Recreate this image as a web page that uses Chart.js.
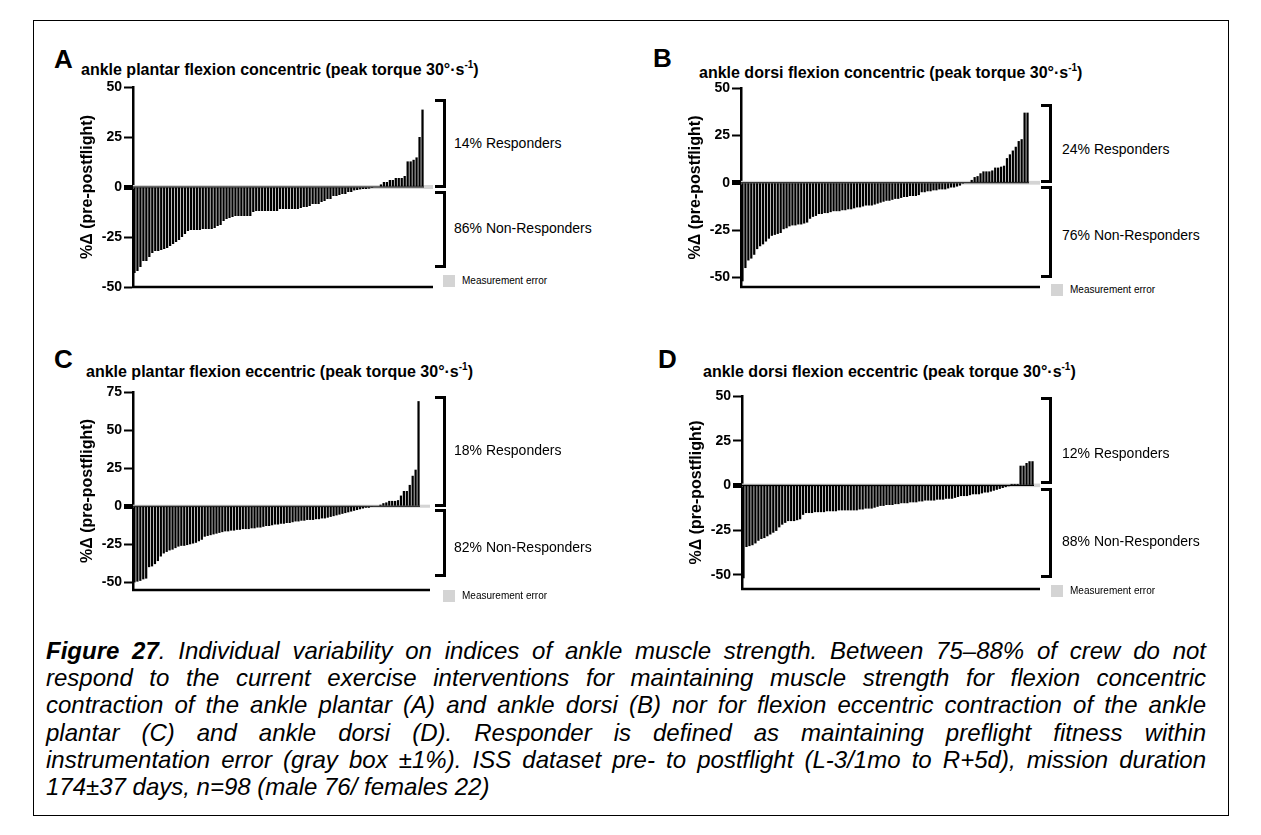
<!DOCTYPE html>
<html>
<head>
<meta charset="utf-8">
<script src="https://cdn.jsdelivr.net/npm/chart.js@4.4.1/dist/chart.umd.min.js"></script>
<style>
  body { margin: 0; background: #fff; font-family: "Liberation Sans", Arial, sans-serif; color: #000; }
  #page { position: relative; width: 1261px; height: 835px; overflow: hidden; }
  #frame { position: absolute; left: 33px; top: 20px; width: 1194px; height: 794px; border: 1px solid #000; }
  canvas { position: absolute; }
  .letter { position: absolute; font-weight: bold; font-size: 26px; line-height: 26px; }
  .title { position: absolute; font-weight: bold; font-size: 16px; line-height: 18px; white-space: nowrap; }
  .title sup { font-size: 10px; line-height: 0; vertical-align: 7px; }
  .bracket { position: absolute; width: 11px; box-sizing: border-box; border: 3px solid #000; border-left: none; }
  .note { position: absolute; font-size: 14px; line-height: 16px; white-space: nowrap; transform: translateY(-50%); }
  .err { position: absolute; font-size: 10px; line-height: 12px; white-space: nowrap; transform: translateY(-50%); }
  .swatch { position: absolute; width: 12px; height: 12px; background: #d4d4d4; }
  #caption { position: absolute; left: 46px; top: 637px; width: 1160px; font-style: italic; font-size: 24px; line-height: 27.2px; }
  #caption div { text-align: justify; text-align-last: justify; }
  #caption div.last { text-align-last: left; }
</style>
</head>
<body>
<div id="page">
  <div id="frame"></div>

  <div class="letter" style="left:54px; top:46px;">A</div>
  <div class="title" style="left:81px; top:61px;">ankle plantar flexion concentric (peak torque 30°·s<sup>-1</sup>)</div>
  <div class="letter" style="left:653px; top:45px;">B</div>
  <div class="title" style="left:699px; top:64px;">ankle dorsi flexion concentric (peak torque 30°·s<sup>-1</sup>)</div>
  <div class="letter" style="left:54px; top:346px;">C</div>
  <div class="title" style="left:86px; top:363px;">ankle plantar flexion eccentric (peak torque 30°·s<sup>-1</sup>)</div>
  <div class="letter" style="left:658px; top:346px;">D</div>
  <div class="title" style="left:703px; top:363px;">ankle dorsi flexion eccentric (peak torque 30°·s<sup>-1</sup>)</div>

  <canvas id="chartA"></canvas>
  <canvas id="chartB"></canvas>
  <canvas id="chartC"></canvas>
  <canvas id="chartD"></canvas>

  <div class="bracket" style="left:435px; top:99px; height:89px;"></div>
  <div class="bracket" style="left:435px; top:191px; height:77px;"></div>
  <div class="note" style="left:454px; top:143px;">14% Responders</div>
  <div class="note" style="left:454px; top:228px;">86% Non-Responders</div>
  <div class="swatch" style="left:443px; top:275px;"></div>
  <div class="err" style="left:462px; top:281px;">Measurement error</div>

  <div class="bracket" style="left:1041px; top:104px; height:79px;"></div>
  <div class="bracket" style="left:1041px; top:186px; height:92px;"></div>
  <div class="note" style="left:1062px; top:149px;">24% Responders</div>
  <div class="note" style="left:1062px; top:235px;">76% Non-Responders</div>
  <div class="swatch" style="left:1051px; top:284px;"></div>
  <div class="err" style="left:1070px; top:290px;">Measurement error</div>

  <div class="bracket" style="left:435px; top:396px; height:111px;"></div>
  <div class="bracket" style="left:435px; top:509px; height:68px;"></div>
  <div class="note" style="left:454px; top:450px;">18% Responders</div>
  <div class="note" style="left:454px; top:547px;">82% Non-Responders</div>
  <div class="swatch" style="left:443px; top:590px;"></div>
  <div class="err" style="left:462px; top:596px;">Measurement error</div>

  <div class="bracket" style="left:1041px; top:397px; height:87px;"></div>
  <div class="bracket" style="left:1041px; top:488px; height:90px;"></div>
  <div class="note" style="left:1062px; top:453px;">12% Responders</div>
  <div class="note" style="left:1062px; top:541px;">88% Non-Responders</div>
  <div class="swatch" style="left:1051px; top:585px;"></div>
  <div class="err" style="left:1070px; top:591px;">Measurement error</div>

  <div id="caption">
    <div><b>Figure 27</b>. Individual variability on indices of ankle muscle strength. Between 75–88% of crew do not</div>
    <div>respond to the current exercise interventions for maintaining muscle strength for flexion concentric</div>
    <div>contraction of the ankle plantar (A) and ankle dorsi (B) nor for flexion eccentric contraction of the ankle</div>
    <div>plantar (C) and ankle dorsi (D). Responder is defined as maintaining preflight fitness within</div>
    <div>instrumentation error (gray box ±1%). ISS dataset pre- to postflight (L-3/1mo to R+5d), mission duration</div>
    <div class="last">174±37 days, n=98 (male 76/ females 22)</div>
  </div>
</div>

<script>
// % change pre- to postflight per crew member, sorted (n = 98)
const plantarConcentric = [
    -43, -42, -40, -37, -37, -35, -33, -32, -32, -31.5,
    -31, -30.5, -29.5, -28.5, -27.5, -26.5, -25, -23.5, -22, -21.5,
    -21.5, -21.5, -21.5, -21, -21, -21, -21, -20.5, -19.5, -19,
    -17, -16, -15.5, -15, -14.5, -14.5, -14.5, -14.5, -14.5, -14.5,
    -12.5, -12, -12, -12, -12, -12, -12, -12, -12, -11,
    -11, -11, -11, -11, -11, -11, -10.5, -10, -10, -9.5,
    -8.5, -8.5, -8.5, -7.5, -7, -6, -6, -4.5, -4.5, -4,
    -3.5, -3.5, -2.5, -2.5, -1.7, -1.5, -1.2, -1, -1, -0.8,
    -0.5, 0, 0,
    1.3, 2.5, 2.5, 3.5, 3.5, 4.5, 4.5, 4.5, 5.5, 12.8, 12.8, 13.6, 14.8, 25, 38.7
];
const dorsiConcentric = [
    -52, -45, -41, -40, -38, -35, -33.5, -32.5, -31, -29.5,
    -28, -27.5, -27, -26.5, -24.5, -24, -23, -22.5, -22.5, -22,
    -22, -21.5, -21, -19, -18, -17.5, -16.5, -16.5, -16, -16,
    -15.5, -15, -15, -15, -14.5, -14.5, -14, -14, -13.5, -13,
    -13, -12.5, -12, -12, -12, -11.5, -11, -10.5, -10, -9.5,
    -9.5, -9, -8.5, -8.5, -8, -7.5, -7.5, -7, -7, -7,
    -6.5, -5, -5, -4.5, -4.5, -4, -4, -3.5, -3.5, -3.5,
    -3, -2.5, -2.5, -2, -1.5, -0.5,
    0, 0,
    1.5, 3, 3.5, 5, 6, 6, 6, 6.5, 8, 8, 8.5, 9, 13, 15, 17, 19, 22, 23, 37, 37
];
const plantarEccentric = [
    -50, -49.5, -49, -48, -47.5, -40, -39.5, -38, -36, -33,
    -31, -30, -29, -28.5, -27.5, -26.5, -26, -26, -25.5, -25,
    -24.5, -24, -23, -22, -20, -19.5, -19, -18.5, -18, -17.5,
    -17, -16.5, -16.5, -16, -16, -15.5, -15.5, -15, -15, -15,
    -14.5, -14.5, -14, -14, -13.5, -13, -13, -12.5, -12, -12,
    -11.5, -11.5, -11, -11, -10.5, -10, -10, -9.5, -9.5, -9,
    -9, -9, -8.5, -8.5, -8, -8, -7.5, -7, -6.5, -6,
    -5.5, -5, -4.5, -4, -3.5, -3, -2.5, -2, -1.5, -1,
    -1,
    -0.5, 0, 0,
    1, 2, 2.5, 3.5, 3.5, 3.5, 4, 7, 10, 10, 14, 20, 24, 69
];
const dorsiEccentric = [
    -52, -34.5, -34, -33.5, -32.5, -31, -30, -29.5, -28.5, -27.5,
    -26.5, -25.5, -23.5, -22, -21, -20, -20, -20, -19.5, -19,
    -16.5, -15.5, -15.5, -15.5, -15, -15, -15, -15, -14.5, -14.5,
    -14.5, -14.5, -14, -14, -14, -14, -14, -14, -14, -13.5,
    -13.5, -13, -13, -13, -12.5, -12, -11.5, -11.5, -11, -11,
    -11, -10.5, -10.5, -10, -10, -10, -9.5, -9.5, -9.5, -9,
    -9, -8.5, -8.5, -8.5, -8.5, -8, -8, -8, -7.5, -7.5,
    -7.5, -7, -6.5, -6, -6, -6, -5.5, -5, -5, -5,
    -4.5, -4, -4, -3.5, -3, -2.5, -2, -1.5, -1, -0.5,
    0.8, 0.8, 0.8,
    11, 11, 12.5, 13.5, 13.5
];

const crew = plantarConcentric.map((v, i) => i + 1);

const ticksA = [-50, -25, 0, 25, 50];
const ticksB = [-50, -25, 0, 25, 50];
const ticksC = [-50, -25, 0, 25, 50, 75];
const ticksD = [-50, -25, 0, 25, 50];

const measurementError = 1; // gray band, +-1 %

const panels = [
    { id: "chartA", values: plantarConcentric, ticks: ticksA, min: -50, max: 50, axisX: 133, top: 87, bottom: 287, right: 424, end: 433 },
    { id: "chartB", values: dorsiConcentric, ticks: ticksB, min: -55, max: 50, axisX: 741, top: 88, bottom: 287, right: 1029, end: 1040 },
    { id: "chartC", values: plantarEccentric, ticks: ticksC, min: -55, max: 75, axisX: 133, top: 392, bottom: 590, right: 420, end: 430 },
    { id: "chartD", values: dorsiEccentric, ticks: ticksD, min: -58, max: 50, axisX: 742, top: 396, bottom: 589, right: 1034, end: 1040 }
];

const fontFamily = "'Liberation Sans', Arial, sans-serif";
const axisWidth = 58;
const leftRoom = 80;

const zeroBand = {
    id: "zeroBand",
    beforeDatasetsDraw(chart, args, opts) {
        const { ctx, chartArea, scales } = chart;
        const y = scales.y;
        const hi = y.getPixelForValue(measurementError);
        const lo = y.getPixelForValue(-measurementError);
        const zero = y.getPixelForValue(0);
        ctx.save();
        ctx.fillStyle = "#d4d4d4";
        ctx.fillRect(chartArea.left, hi, opts.end - chartArea.left, lo - hi);
        ctx.strokeStyle = "#000";
        ctx.lineWidth = 1.2;
        ctx.beginPath();
        ctx.moveTo(chartArea.left, zero);
        ctx.lineTo(chartArea.right, zero);
        ctx.stroke();
        ctx.restore();
    },
    afterDraw(chart, args, opts) {
        const { ctx, chartArea } = chart;
        ctx.save();
        ctx.strokeStyle = "#000";
        ctx.lineWidth = 2.5;
        ctx.beginPath();
        ctx.moveTo(chartArea.left - 1, chartArea.bottom);
        ctx.lineTo(opts.end, chartArea.bottom);
        ctx.stroke();
        ctx.restore();
    }
};

for (const p of panels) {
    const canvas = document.getElementById(p.id);
    const left = p.axisX - leftRoom;
    const top = p.top - 12;
    const width = p.end + 4 - left;
    const height = p.bottom - p.top + 24;
    canvas.style.left = left + "px";
    canvas.style.top = top + "px";
    canvas.width = width;
    canvas.height = height;

    new Chart(canvas, {
        type: "bar",
        data: {
            labels: crew,
            datasets: [{
                data: p.values,
                backgroundColor: "#000",
                borderWidth: 0,
                barPercentage: 0.76,
                categoryPercentage: 1
            }]
        },
        options: {
            responsive: false,
            animation: false,
            devicePixelRatio: 1,
            layout: {
                padding: { left: leftRoom - axisWidth, right: width - (p.right - left), top: 12, bottom: 12 }
            },
            plugins: {
                legend: { display: false },
                tooltip: { enabled: false },
                zeroBand: { end: p.end - left }
            },
            scales: {
                x: { display: false },
                y: {
                    min: p.min,
                    max: p.max,
                    afterFit: s => { s.width = axisWidth; },
                    afterBuildTicks: s => { s.ticks = p.ticks.map(v => ({ value: v })); },
                    border: { display: true, color: "#000", width: 2.5 },
                    grid: {
                        drawOnChartArea: false,
                        drawTicks: true,
                        tickLength: 9,
                        tickColor: "#000",
                        tickWidth: c => (c.tick && c.tick.value === 0 ? 5 : 2)
                    },
                    ticks: {
                        color: "#000",
                        padding: 2,
                        font: { family: fontFamily, size: 14, weight: "bold" }
                    },
                    title: {
                        display: true,
                        text: "%Δ (pre-postflight)",
                        color: "#000",
                        padding: { top: 3, bottom: 0 },
                        font: { family: fontFamily, size: 16, weight: "bold" }
                    }
                }
            }
        },
        plugins: [zeroBand]
    });
}
</script>
</body>
</html>
